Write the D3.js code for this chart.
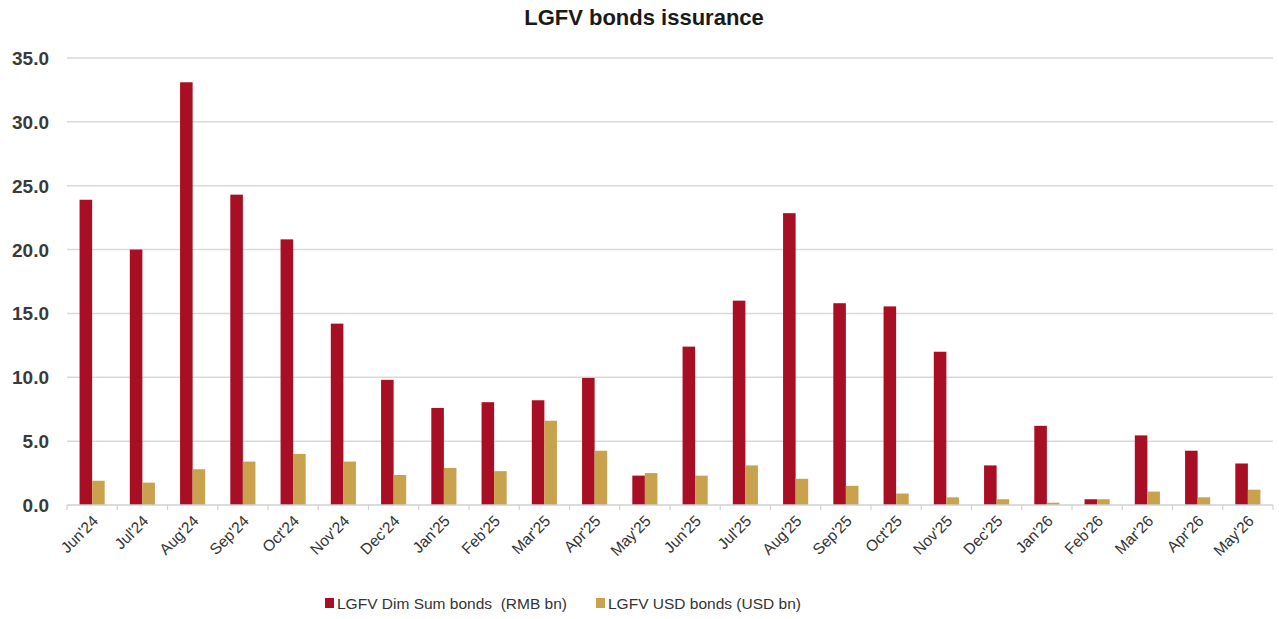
<!DOCTYPE html>
<html lang="en">
<head>
<meta charset="UTF-8">
<title>LGFV bonds issurance</title>
<script src="https://cdnjs.cloudflare.com/ajax/libs/d3/7.8.5/d3.min.js"></script>
<style>
  body { margin: 0; background: #fff; }
  svg { display: block; font-family: "Liberation Sans", Arial, sans-serif; }
  text { white-space: pre; }
</style>
</head>
<body>
<svg id="chart" width="1279" height="619"></svg>
<script>
// data
var months = ["Jun'24", "Jul'24", "Aug'24", "Sep'24", "Oct'24", "Nov'24", "Dec'24",
  "Jan'25", "Feb'25", "Mar'25", "Apr'25", "May'25", "Jun'25", "Jul'25", "Aug'25",
  "Sep'25", "Oct'25", "Nov'25", "Dec'25", "Jan'26", "Feb'26", "Mar'26", "Apr'26", "May'26"];
var dimSum = [23.9, 20.0, 33.1, 24.3, 20.8, 14.2, 9.8, 7.6, 8.05, 8.2, 9.95, 2.3,
  12.4, 16.0, 22.85, 15.8, 15.55, 12.0, 3.1, 6.2, 0.45, 5.45, 4.25, 3.25];
var usd = [1.9, 1.75, 2.8, 3.4, 4.0, 3.4, 2.35, 2.9, 2.65, 6.6, 4.25, 2.5,
  2.3, 3.1, 2.05, 1.5, 0.9, 0.6, 0.45, 0.18, 0.45, 1.05, 0.6, 1.2];
var yTicks = [0, 5, 10, 15, 20, 25, 30, 35];
var seriesNames = ["LGFV Dim Sum bonds  (RMB bn)", "LGFV USD bonds (USD bn)"];
var colors = ["#a80f25", "#c9a24e"];

function draw() {
  var svg = d3.select("#chart");
  var left = 67, right = 1273, top = 58, bottom = 505;

  var x = d3.scaleBand().domain(months).range([left, right])
    .paddingInner(0.5).paddingOuter(0.25);
  var xs = d3.scaleBand().domain([0, 1]).range([0, x.bandwidth()]);
  var y = d3.scaleLinear().domain([0, 35]).range([bottom, top]);

  // title
  svg.append("text")
    .attr("x", 644).attr("y", 25)
    .attr("text-anchor", "middle")
    .attr("font-size", 22).attr("font-weight", "bold")
    .attr("fill", "#1a1a1a")
    .text("LGFV bonds issurance");

  // gridlines
  svg.append("g").selectAll("line").data(yTicks.filter(d => d > 0)).enter()
    .append("line")
    .attr("x1", left).attr("x2", right)
    .attr("y1", d => y(d)).attr("y2", d => y(d))
    .attr("stroke", "#d9d9d9").attr("stroke-width", 1.5);

  // y labels
  svg.append("g").selectAll("text").data(yTicks).enter()
    .append("text")
    .attr("x", 49).attr("y", d => y(d) + 7)
    .attr("text-anchor", "end")
    .attr("font-size", 19).attr("font-weight", "bold")
    .attr("fill", "#3a3a3a")
    .text(d => d.toFixed(1));

  // bars
  var groups = svg.append("g").selectAll("g").data(months).enter()
    .append("g")
    .attr("transform", d => `translate(${x(d)},0)`);
  groups.append("rect")
    .attr("x", xs(0)).attr("width", xs.bandwidth())
    .attr("y", (d, i) => y(dimSum[i]))
    .attr("height", (d, i) => y(0) - y(dimSum[i]))
    .attr("fill", colors[0]);
  groups.append("rect")
    .attr("x", xs(1)).attr("width", xs.bandwidth())
    .attr("y", (d, i) => y(usd[i]))
    .attr("height", (d, i) => y(0) - y(usd[i]))
    .attr("fill", colors[1]);

  // x axis line and ticks at category boundaries
  svg.append("line")
    .attr("x1", left).attr("x2", right)
    .attr("y1", y(0)).attr("y2", y(0))
    .attr("stroke", "#d0d0d0").attr("stroke-width", 1.5);
  var step = x.step();
  var bounds = months.map(d => x(d) - step * 0.25).concat([right]);
  svg.append("g").selectAll("line").data(bounds).enter()
    .append("line")
    .attr("x1", d => d).attr("x2", d => d)
    .attr("y1", y(0)).attr("y2", y(0) + 5)
    .attr("stroke", "#d0d0d0").attr("stroke-width", 1.2);

  // x labels
  svg.append("g").selectAll("text").data(months).enter()
    .append("text")
    .attr("transform", d => `translate(${x(d) + x.bandwidth() / 2 + 7},${y(0) + 17}) rotate(-45)`)
    .attr("text-anchor", "end")
    .attr("font-size", 15.5)
    .attr("fill", "#333")
    .text(d => d);

  // legend
  var leg = svg.append("g");
  var legX = [325, 596];
  seriesNames.forEach(function(name, i) {
    leg.append("rect")
      .attr("x", legX[i]).attr("y", 598)
      .attr("width", 9).attr("height", 10)
      .attr("fill", colors[i]);
    leg.append("text")
      .attr("x", legX[i] + 12).attr("y", 609)
      .attr("font-size", 15.5)
      .attr("fill", "#333")
      .text(name);
  });
}
draw();
</script>
</body>
</html>
